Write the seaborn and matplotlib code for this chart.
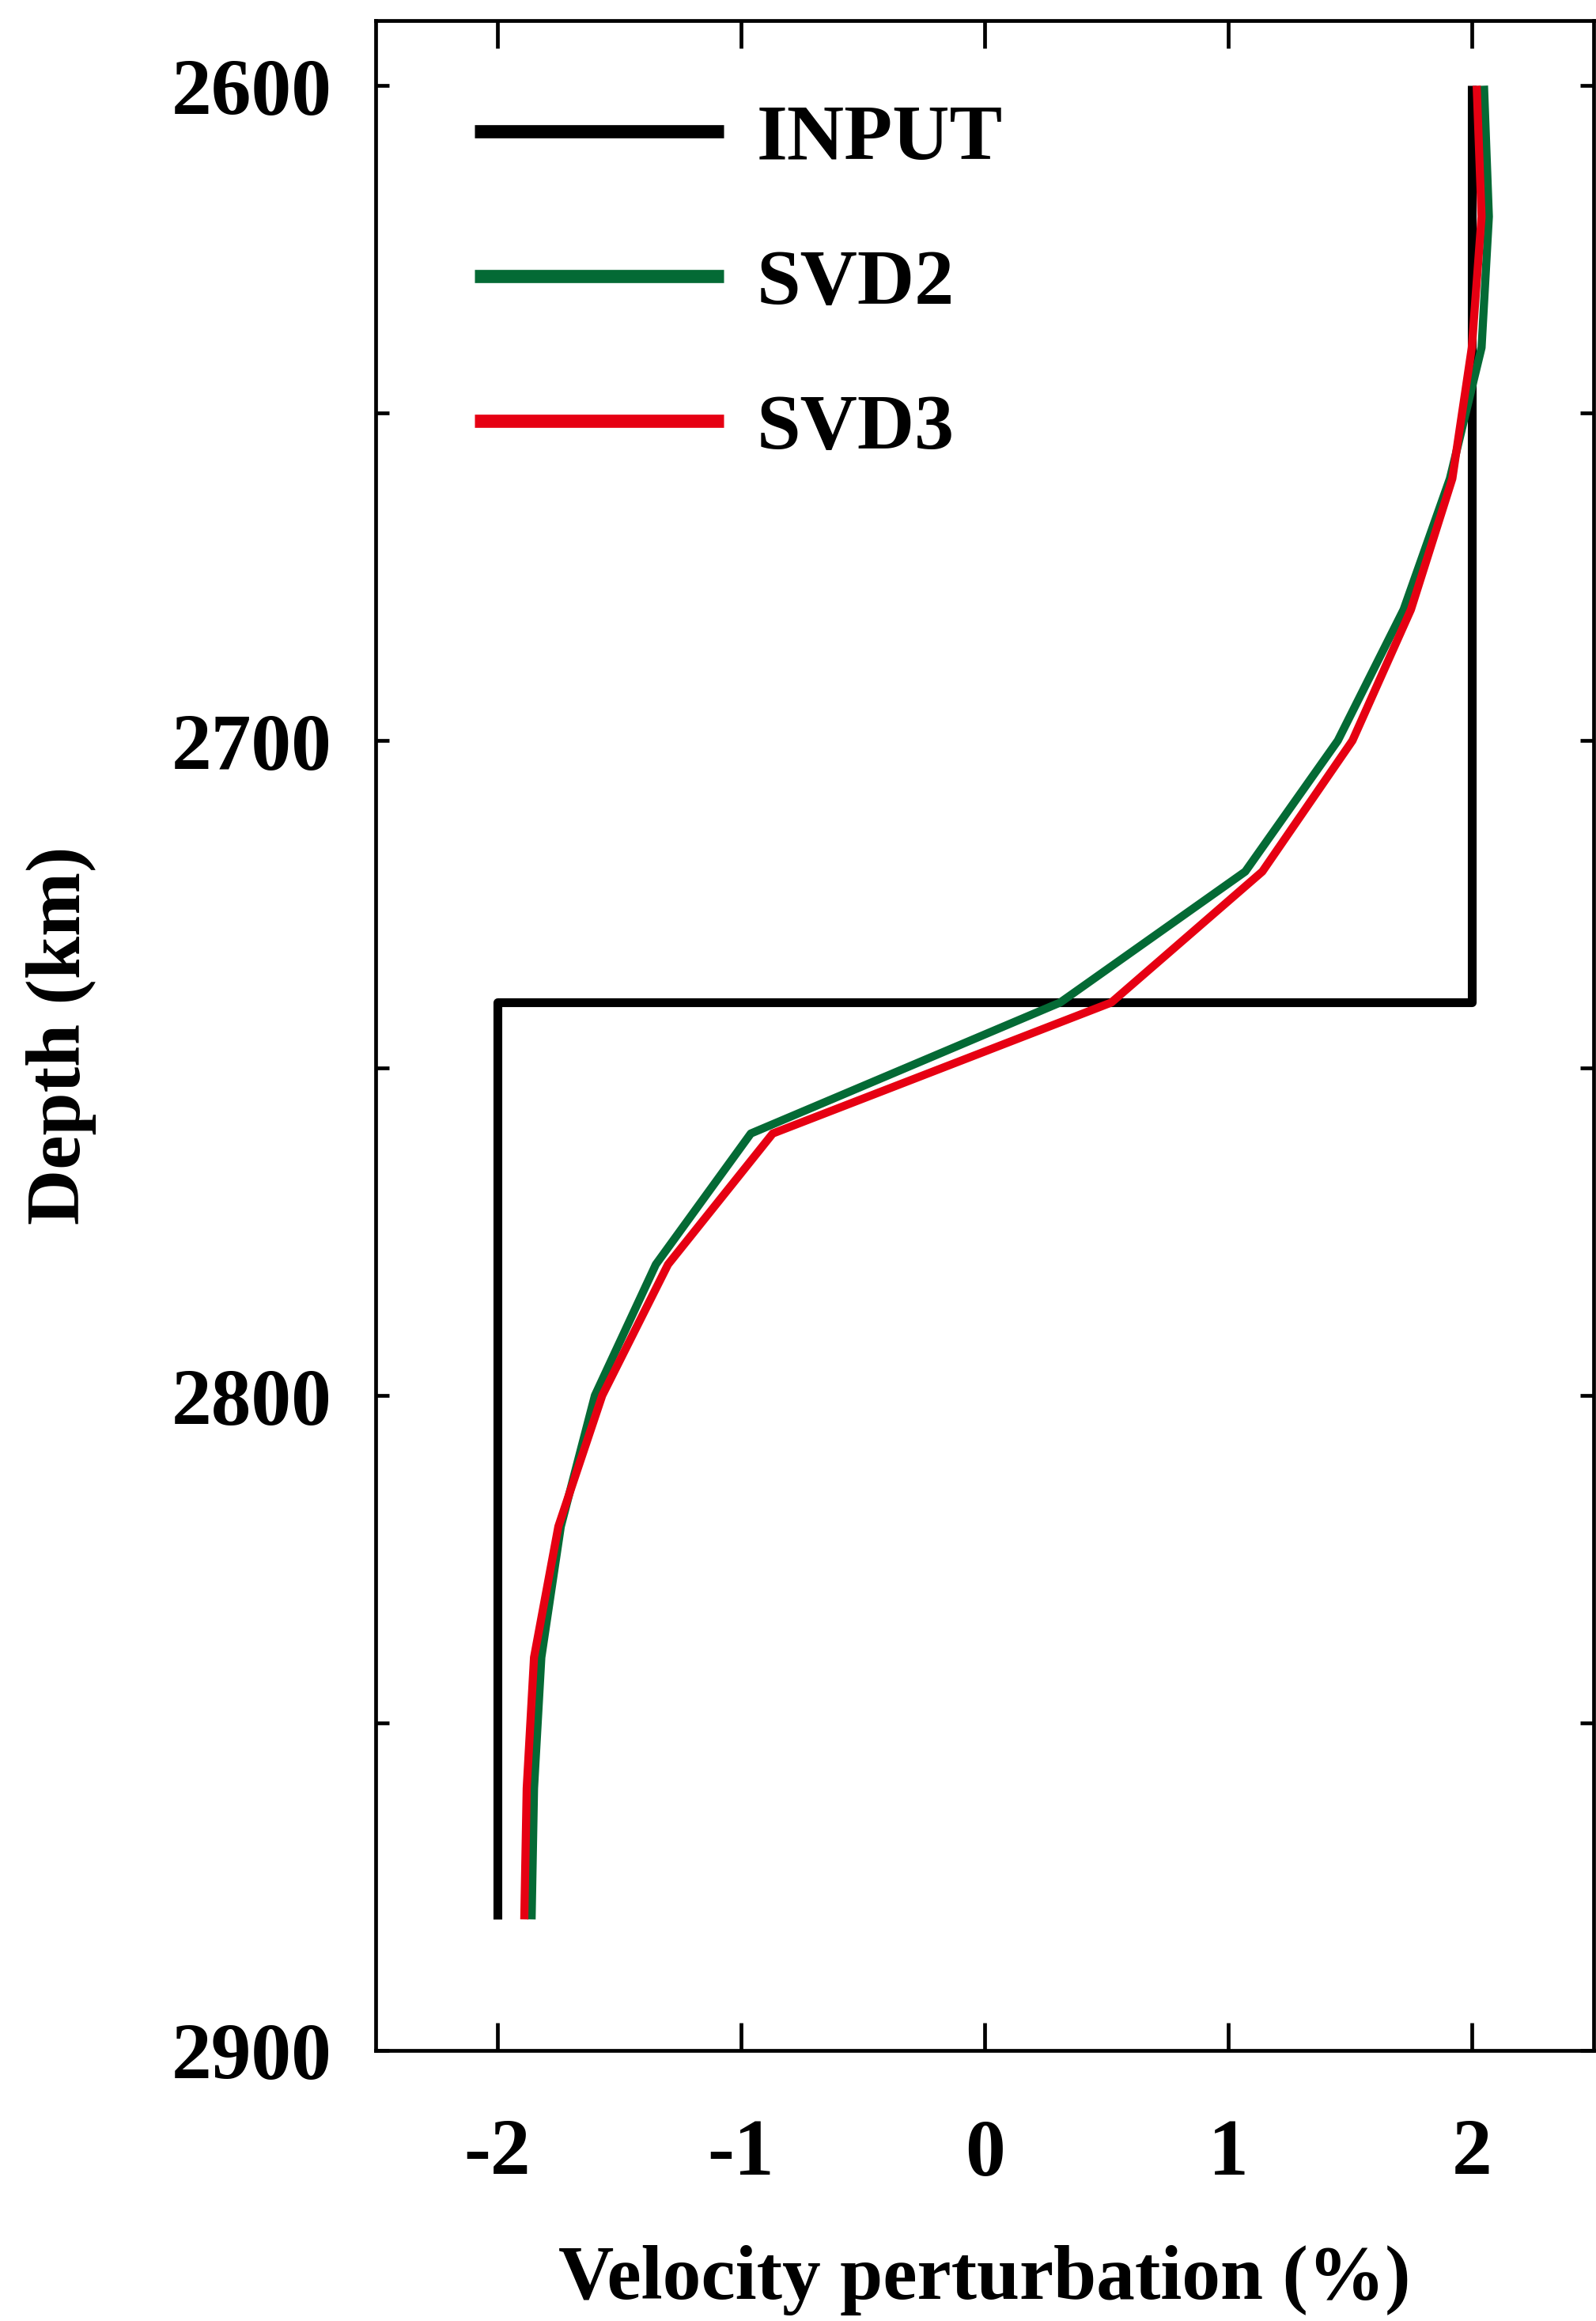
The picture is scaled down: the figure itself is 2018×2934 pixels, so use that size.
import numpy as np
import pandas as pd
import matplotlib
matplotlib.use("Agg")
import matplotlib.pyplot as plt
from matplotlib.ticker import MultipleLocator
import seaborn as sns

# ---- data ----
depth_km = [2600, 2620, 2640, 2660, 2680, 2700, 2720, 2740, 2760, 2780, 2800, 2820, 2840, 2860, 2880]
svd2 = [2.05, 2.07, 2.04, 1.91, 1.72, 1.45, 1.07, 0.31, -0.96, -1.35, -1.60, -1.74, -1.82, -1.85, -1.86]
svd3 = [2.02, 2.04, 2.00, 1.92, 1.75, 1.51, 1.14, 0.52, -0.87, -1.30, -1.57, -1.75, -1.85, -1.88, -1.89]
input_depth = [2600, 2740, 2740, 2880]
input_value = [2.0, 2.0, -2.0, -2.0]
series_names = ["INPUT", "SVD2", "SVD3"]
series_colors = ["#000000", "#046A35", "#E60012"]
x_ticks = [-2, -1, 0, 1, 2]
y_ticks = [2600, 2700, 2800, 2900]

sns.set_style("ticks")
plt.rcParams["font.family"] = ["Liberation Serif", "DejaVu Serif"]
plt.rcParams["font.weight"] = "bold"
for k in ["text.color", "axes.labelcolor", "xtick.color", "ytick.color", "axes.edgecolor"]:
    plt.rcParams[k] = "black"

df_in = pd.DataFrame({"value": input_value, "depth": input_depth, "model": series_names[0]})
df_2 = pd.DataFrame({"value": svd2, "depth": depth_km, "model": series_names[1]})
df_3 = pd.DataFrame({"value": svd3, "depth": depth_km, "model": series_names[2]})

fig = plt.figure(figsize=(10.09, 14.67), dpi=200)
ax = fig.add_axes([0.2354, 0.1166, 0.7631, 0.8747])

lws = [4.0, 3.7, 3.7]
for d, c, lw in zip([df_in, df_2, df_3], series_colors, lws):
    sns.lineplot(data=d, x="value", y="depth", color=c, linewidth=lw, sort=False,
                 estimator=None, orient="y", label=d["model"].iloc[0], ax=ax,
                 solid_capstyle="butt")

ax.set_xlim(-2.5, 2.5)
ax.set_ylim(2900, 2590)
ax.set_xticks(x_ticks)
ax.set_xticklabels([str(t) for t in x_ticks])
ax.set_yticks(y_ticks)
ax.set_yticklabels([str(t) for t in y_ticks])
ax.yaxis.set_minor_locator(MultipleLocator(50))

for s in ax.spines.values():
    s.set_linewidth(1.7)
    s.set_color("black")

ax.tick_params(axis="x", which="major", direction="in", top=True, bottom=True,
               length=12.5, width=1.7, pad=31, labelsize=36.5, colors="black")
ax.tick_params(axis="y", which="major", direction="in", left=True, right=True,
               length=6.2, width=1.7, pad=20, labelsize=36.5, colors="black")
ax.tick_params(axis="y", which="minor", direction="in", left=True, right=True,
               length=6.2, width=1.7, colors="black")
for lab in ax.get_xticklabels() + ax.get_yticklabels():
    lab.set_fontweight("bold")

ax.set_xlabel("Velocity perturbation (%)", fontsize=35, fontweight="bold", labelpad=24,
              color="black")
ax.set_ylabel("Depth (km)", fontsize=35, fontweight="bold", labelpad=34, color="black")

leg = ax.legend(loc="upper left", bbox_to_anchor=(0.081, 0.959), frameon=False,
                handlelength=3.15, handletextpad=0.42, labelspacing=0.92,
                borderpad=0, borderaxespad=0, prop={"weight": "bold", "size": 36})
for t in leg.get_texts():
    t.set_color("black")
for h in leg.get_lines():
    h.set_linewidth(6.0)
    h.set_solid_capstyle("butt")

fig.savefig("out.png", dpi=200, facecolor="white")
